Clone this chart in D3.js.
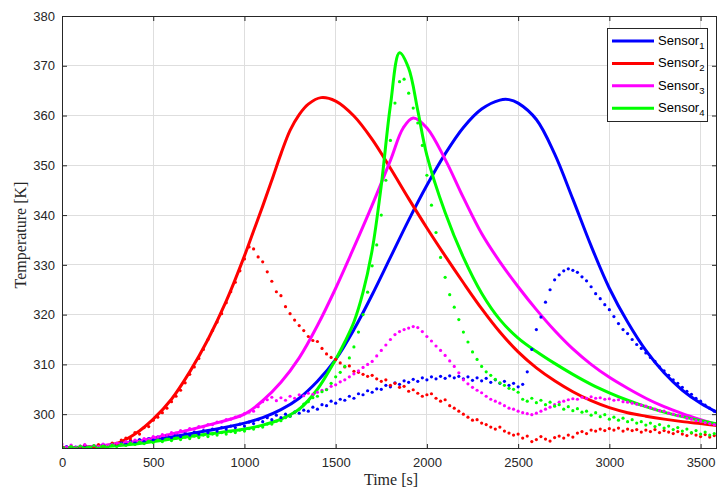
<!DOCTYPE html>
<html>
<head>
<meta charset="utf-8">
<script src="https://cdn.jsdelivr.net/npm/d3@7"></script>
<style>
  html, body { margin: 0; padding: 0; background: #fff; }
  svg { display: block; }
</style>
</head>
<body>
<svg id="chart" width="718" height="491"></svg>
<script>
// ---------------- DATA ----------------
const seriesNames = ["Sensor1", "Sensor2", "Sensor3", "Sensor4"];
const seriesColors = ["#0000ff", "#ff0000", "#ff00ff", "#00ff00"];
const xTicks = [0, 500, 1000, 1500, 2000, 2500, 3000, 3500];
const yTicks = [300, 310, 320, 330, 340, 350, 360, 370, 380];

// simulated (solid) curves: [time, temperature]
const sim1 = [[0,293.2],[200,293.5],[400,294.3],[600,295.4],[800,296.7],[1000,298.2],[1100,299.3],[1200,300.9],[1300,303.2],[1400,306.6],[1500,311.0],[1600,317.0],[1700,324.0],[1800,331.5],[1900,339.0],[2000,346.0],[2100,352.3],[2200,357.6],[2300,361.3],[2400,363.1],[2450,363.2],[2500,362.5],[2600,359.2],[2700,352.3],[2800,343.2],[2900,333.8],[3000,325.3],[3100,318.5],[3200,312.8],[3300,308.3],[3400,304.8],[3500,302.2],[3600,300.2]];
const sim2 = [[0,293.3],[100,293.3],[200,293.5],[300,294.1],[400,296.0],[500,299.0],[600,303.0],[700,308.5],[800,315.0],[900,322.7],[1000,331.8],[1050,336.8],[1100,341.8],[1150,347.0],[1200,352.3],[1250,357.0],[1300,360.2],[1350,362.3],[1420,363.6],[1500,362.9],[1600,359.9],[1700,355.2],[1800,349.4],[1900,343.3],[2000,337.4],[2100,331.8],[2200,326.4],[2300,321.2],[2400,316.5],[2500,312.5],[2600,309.3],[2700,306.7],[2800,304.5],[2900,302.7],[3000,301.3],[3100,300.3],[3200,299.6],[3300,299.0],[3400,298.5],[3500,298.1],[3600,297.7]];
const sim3 = [[0,293.2],[200,293.6],[400,294.5],[600,296],[800,297.8],[1000,300],[1100,302.7],[1200,306.4],[1300,311.3],[1400,317.8],[1500,325.3],[1600,333.5],[1700,342],[1800,351],[1870,357.5],[1925,359.5],[2000,357.5],[2100,351.2],[2200,343.5],[2300,336.3],[2400,330.6],[2500,325.6],[2600,321],[2700,316.8],[2800,313.1],[2900,310],[3000,307.4],[3100,305.2],[3200,303.2],[3300,301.5],[3400,300.1],[3500,298.9],[3600,297.8]];
const sim4 = [[0,293.2],[200,293.4],[400,294],[600,295],[800,296],[1000,297],[1100,297.8],[1200,299],[1300,301.0],[1400,305.0],[1500,311.0],[1550,314.5],[1600,318.5],[1650,324.5],[1700,333],[1750,346],[1800,362],[1850,372.6],[1900,369.5],[1950,361],[2000,352],[2100,340.5],[2200,331.5],[2300,324.3],[2400,319],[2500,315.3],[2600,312.6],[2700,310.2],[2800,308],[2900,306],[3000,304.3],[3100,302.8],[3200,301.5],[3300,300.4],[3400,299.5],[3500,298.7],[3600,298]];

// measured (dotted) series, sampled every 25 s from t = 0 s
const dotStart = 0, dotStep = 25;
const meas1 = [293.2,293.5,293.1,293.4,293.3,293.7,293.2,293.6,293.4,293.9,293.5,294.1,293.8,294.3,294.0,294.6,294.3,294.9,294.5,295.1,294.8,295.4,295.1,295.7,295.3,295.9,295.5,296.2,295.8,296.4,296.0,296.7,296.3,297.0,296.6,297.3,297.0,297.6,297.3,298.0,297.6,298.4,298.1,298.9,298.5,299.3,298.9,299.8,299.3,300.0,299.6,300.4,300.2,300.8,300.6,301.4,301.0,301.9,301.7,302.6,302.2,303.0,302.8,303.6,303.2,304.1,303.9,304.7,304.4,305.1,305.0,305.8,305.5,306.3,306.0,306.7,306.4,307.0,306.6,307.3,306.9,307.5,307.1,307.6,307.2,307.7,307.3,307.6,307.1,307.5,306.8,307.3,306.7,307.2,306.4,306.9,306.2,306.6,305.8,306.2,305.5,306.0,308.5,313.0,317.0,319.5,322.5,325.0,327.0,328.0,328.8,329.2,328.9,328.5,327.6,326.8,325.6,324.2,323.2,322.0,321.0,319.6,318.2,317.0,316.2,315.0,314.0,313.2,312.3,311.4,310.6,309.5,308.7,307.8,306.9,306.2,305.4,304.6,304.0,303.2,302.6,301.8,301.2,300.6,300.0];
const meas2 = [293.5,293.2,293.6,293.3,293.2,293.8,293.4,293.3,293.9,293.6,293.5,294.2,294.0,294.8,295.2,295.0,296.3,296.0,297.3,297.5,298.8,299.4,300.3,301.2,302.5,303.6,304.8,306.3,308.0,309.5,311.2,313.0,315.0,316.8,318.5,320.2,322.4,324.6,326.5,328.8,331.2,333.6,333.2,331.6,330.6,328.6,326.7,324.6,323.8,321.6,320.2,318.9,317.8,316.8,315.6,314.8,314.6,313.2,312.1,311.4,311.0,310.3,309.5,309.7,308.6,308.4,308.0,307.6,307.8,307.1,306.6,306.9,305.8,306.2,305.4,305.6,304.6,304.9,304.2,303.6,303.9,304.1,303.2,302.6,302.9,301.7,301.2,300.6,300.0,299.4,298.8,298.9,298.2,297.9,297.4,297.0,297.4,296.6,296.2,295.8,296.0,295.2,295.6,294.5,294.9,295.5,295.0,294.6,295.3,295.6,295.2,295.8,295.4,296.2,296.5,296.1,296.8,296.6,297.0,296.7,297.1,296.8,297.2,296.6,297.0,296.7,296.9,296.4,296.8,296.5,296.9,296.3,296.7,296.4,296.1,296.5,296.0,295.7,296.2,295.8,295.5,295.9,295.4,295.7,295.3];
const meas3 = [294.0,293.4,293.8,293.3,293.6,293.9,293.4,293.7,293.5,294.0,293.7,293.9,294.2,294.0,294.5,294.3,294.8,294.6,295.1,295.0,295.5,295.4,295.9,295.8,296.3,296.2,296.7,296.6,297.1,297.0,297.5,297.4,297.9,297.9,298.4,298.4,298.9,299.0,299.4,299.6,300.1,300.4,300.6,301.5,302.5,302.9,303.4,302.7,303.3,302.8,303.6,303.2,303.9,303.7,304.2,304.0,304.4,304.8,305.0,305.6,305.9,306.5,306.9,307.5,308.1,308.7,309.4,310.0,310.6,311.7,312.8,313.9,315.0,316.0,316.6,317.0,317.3,317.6,317.4,316.6,315.6,314.7,313.7,312.8,311.8,310.7,309.6,308.3,306.9,306.1,305.4,304.8,304.3,303.6,303.0,302.6,302.2,301.7,301.2,301.0,300.6,300.3,300.1,299.9,300.2,300.6,301.0,301.4,301.9,302.4,302.6,302.9,303.1,303.0,303.4,303.2,303.5,303.2,303.3,303.0,303.1,302.8,302.9,302.5,302.4,302.2,302.0,301.8,301.6,301.3,301.0,300.7,300.6,300.2,300.0,299.7,299.6,299.2,299.0,298.7,298.6,298.3,298.1,297.9,297.7];
const meas4 = [293.3,293.0,293.5,293.2,293.6,293.1,293.4,293.7,293.2,293.6,293.4,293.8,293.5,294.0,293.7,294.2,293.9,294.4,294.1,294.6,294.3,294.8,294.5,295.0,294.7,295.2,294.9,295.4,295.1,295.6,295.3,295.8,295.5,296.0,295.8,296.3,296.0,296.5,296.3,296.8,296.6,297.1,297.0,297.5,297.4,298.0,298.0,298.6,298.7,299.3,299.6,300.4,301.0,302.0,302.5,303.3,303.6,304.5,304.9,306.2,307.5,308.4,309.6,311.3,313.5,316.5,320.0,324.5,329.8,334.0,340.0,347.0,355.0,362.5,366.8,367.3,364.5,361.5,358.5,354.0,348.0,342.0,336.5,331.5,327.5,324.0,321.5,319.0,316.5,314.5,312.5,311.0,309.6,308.5,307.8,307.0,306.3,305.8,305.2,305.0,304.4,303.0,302.6,303.2,302.3,302.8,301.9,302.4,301.6,301.9,301.0,301.5,300.7,301.1,300.4,300.6,299.8,300.3,299.5,299.9,299.0,299.4,298.8,299.2,298.5,298.9,298.2,298.5,297.8,298.2,297.5,297.9,297.2,297.6,296.9,297.3,296.6,297.0,296.3,296.7,296.0,296.4,295.8,296.1,295.6];

const simSeries = [sim1, sim2, sim3, sim4];
const measSeries = [meas1, meas2, meas3, meas4];

// ---------------- CHART ----------------
const svg = d3.select("#chart");
const mLeft = 62, mRight = 717, mTop = 16, mBottom = 449;
const axisColor = "#262626";

const x = d3.scaleLinear().domain([0, 3590]).range([mLeft, mRight]);
const y = d3.scaleLinear().domain([293, 380]).range([mBottom, mTop]);

// grid
const grid = svg.append("g");
grid.selectAll(".gx").data(xTicks.filter(d => d > 0)).enter().append("line")
  .attr("x1", d => x(d)).attr("x2", d => x(d)).attr("y1", mTop).attr("y2", mBottom)
  .attr("stroke", "#dedede").attr("stroke-width", 1).attr("shape-rendering", "crispEdges");
grid.selectAll(".gy").data(yTicks.filter(d => d < 380)).enter().append("line")
  .attr("x1", mLeft).attr("x2", mRight).attr("y1", d => y(d)).attr("y2", d => y(d))
  .attr("stroke", "#dedede").attr("stroke-width", 1).attr("shape-rendering", "crispEdges");

// clip
svg.append("clipPath").attr("id", "clip").append("rect")
  .attr("x", mLeft).attr("y", mTop).attr("width", mRight - mLeft).attr("height", mBottom - mTop);
const plot = svg.append("g").attr("clip-path", "url(#clip)");

const line = d3.line().x(d => x(d[0])).y(d => y(d[1])).curve(d3.curveCatmullRom.alpha(0.5));

simSeries.forEach((s, i) => {
  plot.append("path").datum(s)
    .attr("fill", "none").attr("stroke", seriesColors[i])
    .attr("stroke-width", 3).attr("stroke-linejoin", "round")
    .attr("d", line);
});

measSeries.forEach((s, i) => {
  plot.append("g").selectAll("circle").data(s).enter().append("circle")
    .attr("cx", (d, j) => x(dotStart + j * dotStep))
    .attr("cy", d => y(d))
    .attr("r", 1.6)
    .attr("fill", seriesColors[i]);
});

// axes (MATLAB style: ticks inward, box)
const fontSans = "Arial, 'Liberation Sans', Helvetica, sans-serif";
const xAxis = d3.axisBottom(x).tickValues(xTicks).tickSize(-5).tickPadding(9).tickFormat(d3.format("d"));
const gx = svg.append("g").attr("transform", `translate(0,${mBottom})`).call(xAxis);
const yAxis = d3.axisLeft(y).tickValues(yTicks).tickSize(-5).tickPadding(7).tickFormat(d3.format("d"));
const gy = svg.append("g").attr("transform", `translate(${mLeft},0)`).call(yAxis);
const gxt = svg.append("g").attr("transform", `translate(0,${mTop})`)
  .call(d3.axisTop(x).tickValues(xTicks).tickSize(-5).tickFormat(""));
const gyr = svg.append("g").attr("transform", `translate(${mRight},0)`)
  .call(d3.axisRight(y).tickValues(yTicks).tickSize(-5).tickFormat(""));

[gx, gy, gxt, gyr].forEach(g => {
  g.select(".domain").remove();
  g.selectAll(".tick line").attr("stroke", axisColor).attr("stroke-width", 1);
  g.selectAll(".tick text").attr("fill", axisColor)
    .style("font-family", fontSans).style("font-size", "13px");
});

// box
svg.append("rect").attr("x", mLeft + 0.5).attr("y", mTop + 0.5)
  .attr("width", mRight - mLeft - 1).attr("height", mBottom - mTop - 1)
  .attr("fill", "none").attr("stroke", axisColor).attr("stroke-width", 1)
  .attr("shape-rendering", "crispEdges");

// axis titles
const fontSerif = "'Times New Roman', 'Liberation Serif', Times, serif";
svg.append("text").attr("x", 391).attr("y", 485).attr("text-anchor", "middle")
  .style("font-family", fontSerif).style("font-size", "16px").attr("fill", axisColor)
  .text("Time [s]");
svg.append("text").attr("transform", "translate(26,235) rotate(-90)").attr("text-anchor", "middle")
  .style("font-family", fontSerif).style("font-size", "16px").attr("fill", axisColor)
  .text("Temperature [K]");

// legend
const lg = svg.append("g");
lg.append("rect").attr("x", 607.5).attr("y", 28.5).attr("width", 100).attr("height", 93)
  .attr("fill", "#fff").attr("stroke", axisColor).attr("stroke-width", 1);
seriesNames.forEach((name, i) => {
  const yy = 41 + i * 22.4;
  lg.append("line").attr("x1", 612).attr("x2", 654).attr("y1", yy).attr("y2", yy)
    .attr("stroke", seriesColors[i]).attr("stroke-width", 3);
  const t = lg.append("text").attr("x", 658).attr("y", yy + 4)
    .style("font-family", fontSans).style("font-size", "13px").attr("fill", "#000");
  t.append("tspan").text(name.replace(/\d+$/, ""));
  t.append("tspan").attr("dy", 4).style("font-size", "9.5px").text(name.match(/\d+$/)[0]);
});
</script>
</body>
</html>
